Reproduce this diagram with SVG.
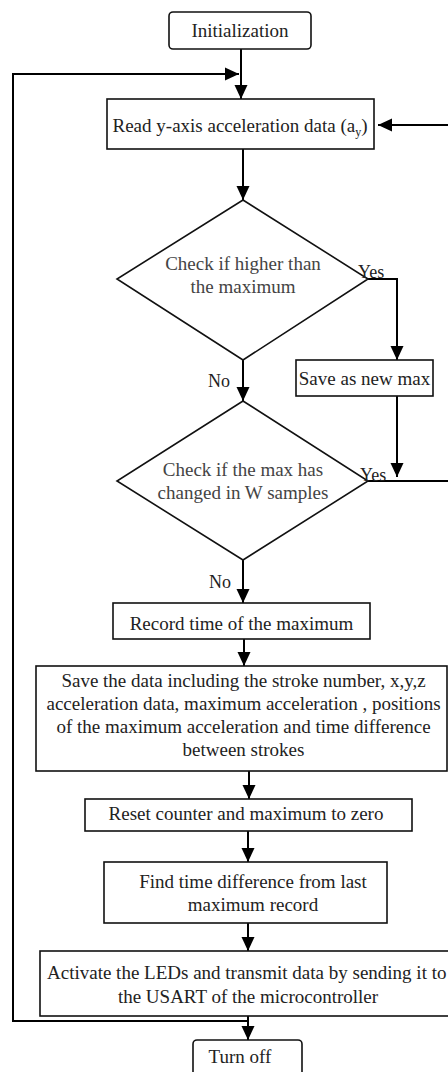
<svg xmlns="http://www.w3.org/2000/svg" width="448" height="1072" viewBox="0 0 448 1072">
<defs>
<marker id="ah" markerUnits="userSpaceOnUse" markerWidth="14" markerHeight="14" refX="14" refY="7" orient="auto">
<path d="M0,0.5 L14,7 L0,13.5 z" fill="#000"/>
</marker>
<style>
.box{fill:#fff;stroke:#111;stroke-width:1.6}
.t{font-family:"Liberation Serif","Times New Roman",serif;font-size:19px;fill:#222;text-anchor:middle}
.g{fill:#444}
.lbl{font-family:"Liberation Serif","Times New Roman",serif;font-size:18px;fill:#222}
.c{fill:none;stroke:#000;stroke-width:2}
</style>
</defs>
<rect width="448" height="1072" fill="#fff"/>
<g id="connectors">
<path class="c" d="M241,49 V99" marker-end="url(#ah)"/>
<path class="c" d="M248,1021 H13 V74 H239" marker-end="url(#ah)"/>
<path class="c" d="M448,125 H378" marker-end="url(#ah)"/>
<path class="c" d="M243,149 V200" marker-end="url(#ah)"/>
<path class="c" d="M368,279 H397 V360" marker-end="url(#ah)"/>
<path class="c" d="M243,360 V401" marker-end="url(#ah)"/>
<path class="c" d="M397,396 V477" marker-end="url(#ah)"/>
<path class="c" d="M368,481 H448"/>
<path class="c" d="M243,560 V603" marker-end="url(#ah)"/>
<path class="c" d="M244,639 V666" marker-end="url(#ah)"/>
<path class="c" d="M249,771 V799" marker-end="url(#ah)"/>
<path class="c" d="M248,831 V862" marker-end="url(#ah)"/>
<path class="c" d="M248,923 V951" marker-end="url(#ah)"/>
<path class="c" d="M248,1016 V1040" marker-end="url(#ah)"/>
</g>
<g id="init">
<rect class="box" x="169" y="12" width="142" height="37" rx="4"/>
<text class="t" x="240" y="37">Initialization</text>
</g>
<g id="read">
<rect class="box" x="107" y="99" width="267" height="50"/>
<text class="t" x="240" y="132">Read y-axis acceleration data (a<tspan font-size="12" dy="4">y</tspan><tspan dy="-4">)</tspan></text>
</g>
<g id="check1">
<polygon class="box" points="243,200 368,279 243,360 117,279"/>
<text class="t g" x="243" y="270">Check if higher than</text>
<text class="t g" x="243" y="293">the maximum</text>
</g>
<g id="savemax">
<rect class="box" x="296" y="360" width="137" height="36"/>
<text class="t" x="364.5" y="385">Save as new max</text>
</g>
<g id="check2">
<polygon class="box" points="243,401 368,481 243,560 117,481"/>
<text class="t g" x="243" y="476">Check if the max has</text>
<text class="t g" x="243" y="499">changed in W samples</text>
</g>
<g id="labels">
<text class="lbl" x="358" y="278">Yes</text>
<text class="lbl" x="208" y="387">No</text>
<text class="lbl" x="360" y="481">Yes</text>
<text class="lbl" x="209" y="588">No</text>
</g>
<g id="record">
<rect class="box" x="113" y="603" width="257" height="36"/>
<text class="t" x="241.5" y="630">Record time of the maximum</text>
</g>
<g id="savedata">
<rect class="box" x="36" y="666" width="411" height="105"/>
<text class="t" x="243.5" y="687">Save the data including the stroke number, x,y,z</text>
<text class="t" x="243.5" y="710">acceleration data,  maximum acceleration , positions</text>
<text class="t" x="243.5" y="733">of the maximum acceleration and time difference</text>
<text class="t" x="243.5" y="756">between strokes</text>
</g>
<g id="reset">
<rect class="box" x="85" y="799" width="327" height="32"/>
<text class="t" x="246" y="820">Reset counter and maximum to zero</text>
</g>
<g id="find">
<rect class="box" x="104" y="862" width="283" height="61"/>
<text class="t" x="253" y="888">Find time difference from last</text>
<text class="t" x="253" y="911">maximum record</text>
</g>
<g id="activate">
<rect class="box" x="40" y="951" width="430" height="65"/>
<text class="t" x="47" y="979" style="text-anchor:start">Activate the LEDs and transmit data by sending it to</text>
<text class="t" x="248" y="1003">the USART of the microcontroller</text>
</g>
<g id="turnoff">
<rect class="box" x="193" y="1040" width="109" height="40" rx="4"/>
<text class="t" x="240" y="1063">Turn off</text>
</g>
</svg>
